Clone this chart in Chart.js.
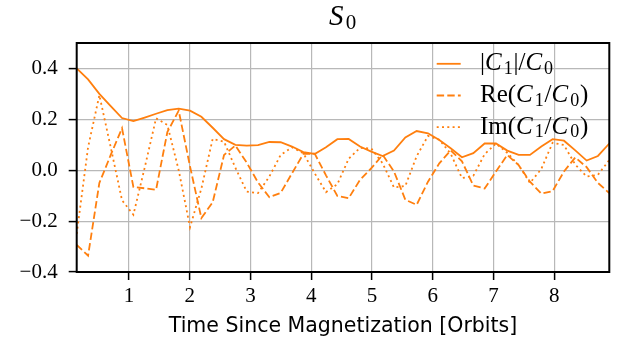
<!DOCTYPE html>
<html>
<head>
<meta charset="utf-8">
<script src="https://cdn.jsdelivr.net/npm/chart.js@4.4.1/dist/chart.umd.min.js"></script>
<style>
  html, body { margin: 0; padding: 0; background: #fff; }
  #wrap { width: 623px; height: 341px; position: relative; }
</style>
</head>
<body>
<div id="wrap"><canvas id="c" width="623" height="341"></canvas></div>
<script>
// Time since magnetization, in orbits
const times = [0.140, 0.327, 0.513, 0.700, 0.886, 1.073, 1.259, 1.446, 1.632, 1.819,
  2.005, 2.192, 2.378, 2.565, 2.751, 2.938, 3.124, 3.311, 3.497, 3.684,
  3.870, 4.057, 4.243, 4.430, 4.616, 4.803, 4.989, 5.176, 5.362, 5.549,
  5.735, 5.922, 6.108, 6.295, 6.481, 6.668, 6.854, 7.041, 7.227, 7.414,
  7.600, 7.787, 7.973, 8.160, 8.346, 8.533, 8.719, 8.906];

// |C1|/C0
const absRatio = [0.400, 0.357, 0.300, 0.252, 0.205, 0.193, 0.207, 0.222, 0.236, 0.242,
  0.234, 0.210, 0.167, 0.122, 0.100, 0.097, 0.099, 0.111, 0.110, 0.093,
  0.071, 0.064, 0.090, 0.122, 0.123, 0.093, 0.073, 0.056, 0.077, 0.129,
  0.154, 0.145, 0.119, 0.086, 0.051, 0.067, 0.105, 0.105, 0.077, 0.060,
  0.060, 0.093, 0.122, 0.116, 0.078, 0.038, 0.056, 0.105];

// Re(C1/C0)
const reRatio = [-0.293, -0.336, -0.050, 0.060, 0.165, -0.066, -0.071, -0.077, 0.150, 0.234,
  0.015, -0.188, -0.126, 0.060, 0.097, 0.030, -0.048, -0.106, -0.089, -0.012,
  0.064, 0.065, -0.020, -0.101, -0.110, -0.038, 0.008, 0.060, -0.005, -0.116,
  -0.136, -0.045, 0.027, 0.078, 0.035, -0.060, -0.072, -0.005, 0.060, 0.020,
  -0.045, -0.092, -0.082, -0.005, 0.050, 0.012, -0.050, -0.090];

// Im(C1/C0)
const imRatio = [-0.250, 0.090, 0.295, 0.090, -0.118, -0.175, 0.010, 0.204, 0.178, 0.000,
  -0.224, -0.072, 0.123, 0.112, 0.010, -0.084, -0.090, -0.025, 0.060, 0.090,
  0.067, -0.012, -0.086, -0.055, 0.045, 0.088, 0.085, 0.027, -0.068, -0.062,
  0.055, 0.135, 0.120, 0.065, -0.031, -0.022, 0.063, 0.105, 0.068, 0.020,
  -0.050, 0.005, 0.108, 0.099, 0.022, -0.025, -0.018, 0.040];

const xTicks = [1, 2, 3, 4, 5, 6, 7, 8];
const yTicks = [-0.4, -0.2, 0.0, 0.2, 0.4];

const ORANGE = '#ff7f0e';
const SERIF = '"Liberation Serif", "DejaVu Serif", serif';
const SANS = '"DejaVu Sans", sans-serif';

// Rich-text pieces: r = upright, i = italic, s = subscript
const titleRich = [['S', 'i'], ['0', 's']];
const legendRich = [
  [['|', 'r'], ['C', 'i'], ['1', 's'], ['|/', 'r'], ['C', 'i'], ['0', 's']],
  [['Re(', 'r'], ['C', 'i'], ['1', 's'], ['/', 'r'], ['C', 'i'], ['0', 's'], [')', 'r']],
  [['Im(', 'r'], ['C', 'i'], ['1', 's'], ['/', 'r'], ['C', 'i'], ['0', 's'], [')', 'r']]
];

function pieceFont(style, size) {
  if (style === 'i') return 'italic ' + size + 'px ' + SERIF;
  if (style === 's') return Math.round(size * 0.72) + 'px ' + SERIF;
  return size + 'px ' + SERIF;
}

function pieceAdvance(ctx, t, s, size) {
  ctx.font = pieceFont(s, size);
  return ctx.measureText(t).width + (s === 'i' ? size * 0.08 : 0) + (s === 's' ? size * 0.03 : 0);
}

function richWidth(ctx, pieces, size) {
  let w = 0;
  for (const [t, s] of pieces) w += pieceAdvance(ctx, t, s, size);
  return w;
}

function drawRich(ctx, pieces, x, y, size) {
  ctx.textBaseline = 'middle';
  ctx.textAlign = 'left';
  let cx = x;
  for (const [t, s] of pieces) {
    ctx.font = pieceFont(s, size);
    const dy = s === 's' ? size * 0.22 : 0;
    ctx.fillText(t, cx, y + dy);
    cx += pieceAdvance(ctx, t, s, size);
  }
}

const decorations = {
  id: 'decorations',
  afterDraw(chart) {
    const ctx = chart.ctx;
    const a = chart.chartArea;
    ctx.save();
    // frame around the plotting area
    ctx.strokeStyle = '#000';
    ctx.lineWidth = 2;
    ctx.strokeRect(a.left, a.top, a.right - a.left, a.bottom - a.top);

    // title
    ctx.fillStyle = '#000';
    const tSize = 29;
    const tw = richWidth(ctx, titleRich, tSize);
    drawRich(ctx, titleRich, (a.left + a.right) / 2 - tw / 2, 17, tSize);

    // legend
    const lx0 = a.right - 172.6, lx1 = a.right - 148.6, tx = a.right - 129.3;
    chart.data.datasets.forEach((ds, k) => {
      const y = a.top + 20.8 + k * 31.7;
      ctx.beginPath();
      ctx.strokeStyle = ds.borderColor;
      ctx.lineWidth = ds.borderWidth;
      ctx.setLineDash(ds.borderDash || []);
      ctx.moveTo(lx0, y);
      ctx.lineTo(lx1, y);
      ctx.stroke();
      ctx.setLineDash([]);
      ctx.fillStyle = '#000';
      drawRich(ctx, legendRich[k], tx, y, 25);
    });
    ctx.restore();
  }
};

const series = [
  { label: '|C₁|/C₀', data: absRatio, dash: [] },
  { label: 'Re(C₁/C₀)', data: reRatio, dash: [7.4, 3.2] },
  { label: 'Im(C₁/C₀)', data: imRatio, dash: [2, 3.3] }
];

new Chart(document.getElementById('c'), {
  type: 'line',
  data: {
    datasets: series.map(s => ({
      label: s.label,
      data: times.map((t, i) => ({ x: t, y: s.data[i] })),
      borderColor: ORANGE,
      backgroundColor: ORANGE,
      borderWidth: 1.8,
      borderDash: s.dash,
      pointRadius: 0,
      tension: 0,
      fill: false
    }))
  },
  options: {
    responsive: false,
    animation: false,
    layout: { padding: { top: 43, right: 13.7, left: 0, bottom: 0 } },
    plugins: { legend: { display: false }, title: { display: false }, tooltip: { enabled: false } },
    scales: {
      x: {
        type: 'linear',
        min: times[0],
        max: times[times.length - 1],
        afterBuildTicks: s => { s.ticks = xTicks.map(v => ({ value: v })); },
        afterFit: s => { s.height = 69; },
        grid: { color: '#b8b8b8', lineWidth: 1.2, tickColor: '#000', tickLength: 8, tickWidth: 1.5 },
        border: { display: false },
        ticks: { color: '#000', font: { family: SERIF, size: 21 }, padding: 4, maxRotation: 0,
                 callback: v => String(v) },
        title: { display: true, text: 'Time Since Magnetization [Orbits]', color: '#000',
                 font: { family: SANS, size: 20.5 }, padding: { top: 0, bottom: 2 } }
      },
      y: {
        min: -0.4,
        max: 0.5,
        afterBuildTicks: s => { s.ticks = yTicks.map(v => ({ value: v })); },
        afterFit: s => { s.width = 76.7; },
        grid: { color: '#b8b8b8', lineWidth: 1.2, tickColor: '#000', tickLength: 8, tickWidth: 1.5 },
        border: { display: false },
        ticks: { color: '#000', font: { family: SERIF, size: 21 }, padding: 11,
                 callback: v => (v < 0 ? '\u2212' : '') + Math.abs(v).toFixed(1) }
      }
    }
  },
  plugins: [decorations]
});
</script>
</body>
</html>
